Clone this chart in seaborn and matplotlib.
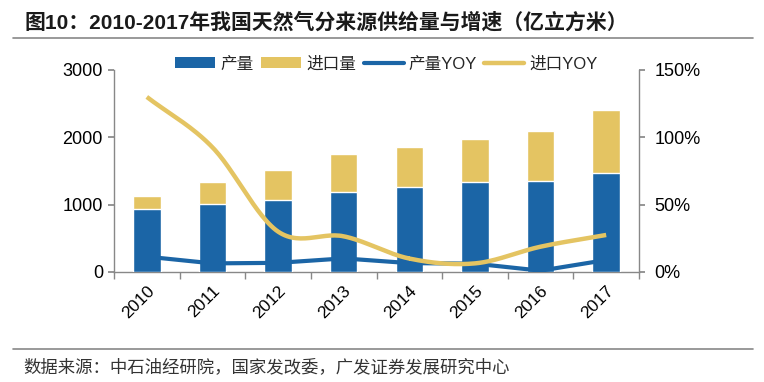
import numpy as np
import pandas as pd
import matplotlib
matplotlib.use("Agg")
import matplotlib.pyplot as plt
from matplotlib.patches import Patch
from matplotlib.lines import Line2D
from matplotlib.ticker import FuncFormatter, FixedLocator
from matplotlib.transforms import ScaledTranslation
import seaborn as sns

# ---- data ----
years = ["2010", "2011", "2012", "2013", "2014", "2015", "2016", "2017"]
production = [941, 1006, 1070, 1193, 1268, 1342, 1357, 1471]
imports = [193, 336, 446, 556, 594, 634, 743, 941]
production_yoy = [0.114, 0.064, 0.068, 0.101, 0.066, 0.062, 0.010, 0.089]
imports_yoy = [1.30, 0.926, 0.30, 0.265, 0.10, 0.064, 0.188, 0.275]

title = "图10：2010-2017年我国天然气分来源供给量与增速（亿立方米）"
source = "数据来源：中石油经研院，国家发改委，广发证券发展研究中心"
legend_labels = ["产量", "进口量", "产量YOY", "进口YOY"]

BLUE = "#1B65A6"
GOLD = "#E4C462"

sns.set_theme(style="white")
plt.rcParams["font.family"] = ["Liberation Sans", "Noto Sans CJK SC", "DejaVu Sans"]

df = pd.DataFrame({"year": years, "production": production,
                   "total": np.array(production) + np.array(imports)})

fig = plt.figure(figsize=(7.64, 3.82), dpi=100)
ax = fig.add_axes([114 / 764, 1 - 272 / 382, (639 - 114) / 764, (272 - 70) / 382])

sns.barplot(data=df, x="year", y="total", color=GOLD, width=0.42, ax=ax,
            saturation=1, zorder=2)
sns.barplot(data=df, x="year", y="production", color=BLUE, width=0.42, ax=ax,
            saturation=1, zorder=3)
ax.set_xlim(-0.5, 7.5)
ax.set_ylim(0, 3000)
ax.set_yticks([0, 1000, 2000, 3000])
ax.set_xlabel("")
ax.set_ylabel("")

ax2 = ax.twinx()
ax2.set_ylim(0, 1.5)
ax2.set_yticks([0, 0.5, 1.0, 1.5])
ax2.yaxis.set_major_formatter(FuncFormatter(lambda v, p: f"{v*100:.0f}%"))

# production YOY: straight segments
sns.lineplot(x=np.arange(len(years)), y=production_yoy, ax=ax2, color=BLUE,
             lw=3, zorder=4)


# imports YOY: smoothed (Catmull-Rom) line like Excel's smooth line
def catmull_rom(xs, ys, n=30):
    xs = np.asarray(xs, float)
    ys = np.asarray(ys, float)
    px = np.concatenate([[2 * xs[0] - xs[1]], xs, [2 * xs[-1] - xs[-2]]])
    py = np.concatenate([[2 * ys[0] - ys[1]], ys, [2 * ys[-1] - ys[-2]]])
    outx, outy = [], []
    for i in range(1, len(px) - 2):
        t = np.linspace(0, 1, n)
        for arr, out in ((px, outx), (py, outy)):
            p0, p1, p2, p3 = arr[i - 1], arr[i], arr[i + 1], arr[i + 2]
            out.extend(0.5 * ((2 * p1) + (-p0 + p2) * t
                              + (2 * p0 - 5 * p1 + 4 * p2 - p3) * t ** 2
                              + (-p0 + 3 * p1 - 3 * p2 + p3) * t ** 3))
    return np.array(outx), np.array(outy)


sx, sy = catmull_rom(np.arange(len(years)), imports_yoy)
ax2.plot(sx, sy, color=GOLD, lw=3.2, solid_capstyle="butt", zorder=5)

# axes styling
for a in (ax, ax2):
    a.spines["top"].set_visible(False)
    for s in ("left", "right", "bottom"):
        a.spines[s].set_color("#888888")
        a.spines[s].set_linewidth(1)
ax.spines["right"].set_visible(False)
ax2.spines["left"].set_visible(False)
ax2.spines["bottom"].set_visible(False)

ax.tick_params(axis="y", which="major", direction="out", length=4, color="#888888",
               labelsize=13, pad=4, left=True, labelcolor="black")
ax2.tick_params(axis="y", which="major", direction="out", length=4, color="#888888",
                labelsize=13, pad=7, right=True, labelcolor="black")
ax.tick_params(axis="x", which="major", length=0, labelsize=12.5, pad=4,
               labelcolor="black")
ax.xaxis.set_minor_locator(FixedLocator(np.arange(-0.5, 8.0, 1.0)))
ax.tick_params(axis="x", which="minor", direction="out", length=5, color="#888888",
               bottom=True)
offset = ScaledTranslation(5 / 100, -11 / 100, fig.dpi_scale_trans)
for lbl in ax.get_xticklabels():
    lbl.set_rotation(45)
    lbl.set_ha("right")
    lbl.set_va("center")
    lbl.set_rotation_mode("anchor")
    lbl.set_transform(lbl.get_transform() + offset)

# legend
handles = [Patch(facecolor=BLUE, edgecolor="none"),
           Patch(facecolor=GOLD, edgecolor="none"),
           Line2D([], [], color=BLUE, lw=3),
           Line2D([], [], color=GOLD, lw=3.2)]
fig.legend(handles, legend_labels, loc="center", bbox_to_anchor=(0.506, 1 - 64 / 382),
           ncol=4, frameon=False, fontsize=12, handlelength=2.4, handleheight=0.6,
           handletextpad=0.3, columnspacing=0.45, borderaxespad=0, borderpad=0)

# title, separators, source
fig.text(25 / 764, 1 - 22 / 382, title, fontsize=15, fontweight="bold",
         ha="left", va="center", color="#1a1a1a")
fig.add_artist(Line2D([13 / 764, 753 / 764], [1 - 37.5 / 382, 1 - 37.5 / 382],
                      color="#888888", lw=1.2))
fig.add_artist(Line2D([13 / 764, 753 / 764], [1 - 349 / 382, 1 - 349 / 382],
                      color="#888888", lw=1.2))
fig.text(23 / 764, 1 - 367 / 382, source, fontsize=12.5, ha="left", va="center",
         color="#333333")

fig.savefig("out.png", dpi=100)
